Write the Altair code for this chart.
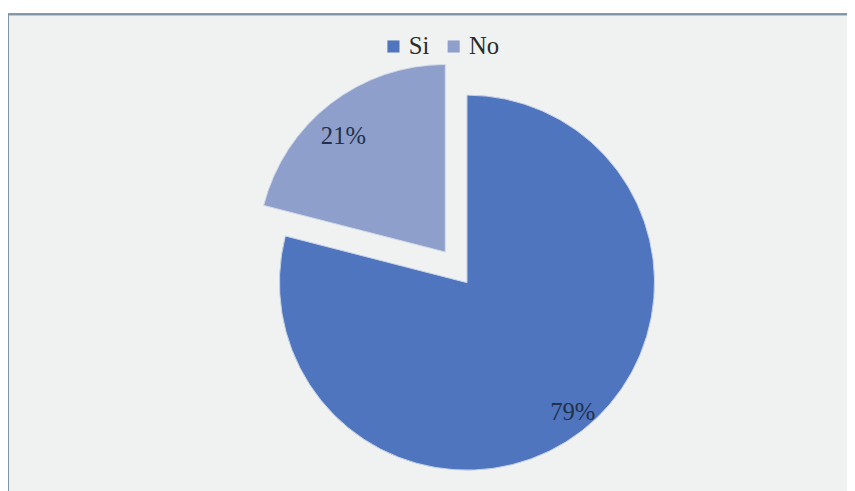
import altair as alt
import pandas as pd

categories = ["Si", "No"]
values = [79, 21]
labels = ["79%", "21%"]
colors = ["#4f75be", "#8e9fcc"]

df = pd.DataFrame({"cat": categories, "value": values, "label": labels, "idx": list(range(len(categories)))})

CX, CY, R = 465, 272, 190
EX, EY = -22, -31
FONT = "Times New Roman"

base = alt.Chart(df).encode(
    theta=alt.Theta("value:Q", stack=True),
    order=alt.Order("idx:Q"),
)

color_enc = alt.Color(
    "cat:N",
    scale=alt.Scale(domain=categories, range=colors),
    legend=alt.Legend(
        title=None,
        orient="none",
        direction="horizontal",
        legendX=378,
        legendY=20,
        symbolType="square",
        symbolSize=150,
        symbolStrokeWidth=0,
        labelFont=FONT,
        labelFontSize=25,
        labelColor="#2b2b2b",
        columnPadding=12,
        labelOffset=3,
    ),
)

si_arc = base.mark_arc(outerRadius=R, stroke="#c9d3e6", strokeWidth=1).encode(
    color=color_enc,
    x=alt.value(CX),
    y=alt.value(CY),
    opacity=alt.condition(alt.datum.cat == "Si", alt.value(1), alt.value(0)),
)

no_arc = base.mark_arc(outerRadius=R, stroke="#d2d9e8", strokeWidth=1, xOffset=EX, yOffset=EY).encode(
    color=alt.Color("cat:N", scale=alt.Scale(domain=categories, range=colors), legend=None),
    x=alt.value(CX),
    y=alt.value(CY),
    opacity=alt.condition(alt.datum.cat == "No", alt.value(1), alt.value(0)),
)

si_text = base.mark_text(font=FONT, fontSize=25, color="#22304a", dx=3, dy=-3).encode(
    text="label:N",
    radius=alt.value(170),
    x=alt.value(CX),
    y=alt.value(CY),
    opacity=alt.condition(alt.datum.cat == "Si", alt.value(1), alt.value(0)),
)

no_text = base.mark_text(font=FONT, fontSize=25, color="#22304a", xOffset=EX, yOffset=EY, dx=-10, dy=3).encode(
    text="label:N",
    radius=alt.value(152),
    x=alt.value(CX),
    y=alt.value(CY),
    opacity=alt.condition(alt.datum.cat == "No", alt.value(1), alt.value(0)),
)

top_border = alt.Chart(df).mark_rule(color="#7f95a6", strokeWidth=2).encode(
    x=alt.value(0), x2=alt.value(850), y=alt.value(0)
)
left_border = alt.Chart(df).mark_rule(color="#7f95a6", strokeWidth=2).encode(
    x=alt.value(0), y=alt.value(0), y2=alt.value(490)
)

chart = alt.layer(si_arc, no_arc, si_text, no_text, top_border, left_border).properties(
    width=850,
    height=490,
    autosize=alt.AutoSizeParams(type="none"),
    padding={"left": 0, "top": 3, "right": 0, "bottom": 0},
    background="#ffffff",
).configure_view(
    fill="#f0f2f2",
    strokeWidth=0,
)

chart.save("out.html", embed_options={"renderer": "svg", "actions": False})
